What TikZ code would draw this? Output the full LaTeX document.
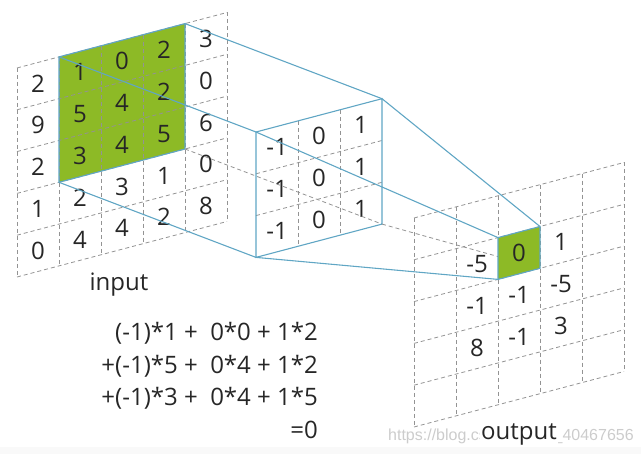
\documentclass[tikz,border=0pt]{standalone}
\usepackage{fontspec}
\setmainfont{Open Sans}
\newfontfamily\markfont{Liberation Sans}
\definecolor{patchgreen}{RGB}{141,186,38}
\definecolor{linkblue}{RGB}{96,166,196}
\tikzset{
  cellgrid/.style={gray!85,dash pattern=on 4pt off 3pt,line width=0.8pt},
  linkline/.style={linkblue,line width=1.1pt},
  val/.style={font=\fontsize{24}{28}\selectfont,text=black!85,inner sep=0pt},
  skewed/.style={x={(42pt,11.1pt)},y={(0pt,-41.8pt)}}
}
\begin{document}
\begin{tikzpicture}[x=1pt,y=-1pt]
  \useasboundingbox (0,0) rectangle (641,454);
  \fill[gray!5] (0,447) rectangle (641,454);

  % input
  \begin{scope}[shift={(17,68)},skewed]
    \fill[patchgreen] (1,0) -- (4,0) -- (4,3) -- (1,3) -- cycle;
    \foreach \i in {0,...,5} \draw[cellgrid] (\i,0) -- (\i,5);
    \foreach \j in {0,...,5} \draw[cellgrid] (0,\j) -- (5,\j);
    \draw[linkline] (1,0) -- (4,0) -- (4,3) -- (1,3) -- cycle;
    \coordinate (pTL) at (1,0);
    \coordinate (pTR) at (4,0);
    \coordinate (pBL) at (1,3);
    \coordinate (pBR) at (4,3);
    \foreach \row [count=\j from 0] in {{2,1,0,2,3},{9,5,4,2,0},{2,3,4,5,6},{1,2,3,1,0},{0,4,4,2,8}}
      \foreach \v [count=\i from 0] in \row
        \node[val] at (\i+0.5,\j+0.5) {\v};
  \end{scope}

  % kernel
  \begin{scope}[shift={(256,132)},skewed]
    \foreach \i in {1,2} \draw[cellgrid] (\i,0) -- (\i,3);
    \foreach \j in {1,2} \draw[cellgrid] (0,\j) -- (3,\j);
    \coordinate (kTL) at (0,0);
    \coordinate (kTR) at (3,0);
    \coordinate (kBL) at (0,3);
    \coordinate (kBR) at (3,3);
    \foreach \v [count=\i from 0] in {-1,0,1}
      \foreach \j in {0,1,2}
        \node[val] at (\i+0.5,\j+0.5) {\v};
  \end{scope}
  \draw[cellgrid] (pBR) -- (kBR);
  \draw[linkline] (pTL) -- (kTL);
  \draw[linkline] (pTR) -- (kTR);
  \draw[linkline] (pBL) -- (kBL);
  \draw[linkline] (kTL) -- (kTR) -- (kBR) -- (kBL) -- cycle;

  % output
  \begin{scope}[shift={(414,218)},skewed]
    \foreach \i in {0,...,5} \draw[cellgrid] (\i,0) -- (\i,5);
    \foreach \j in {0,...,5} \draw[cellgrid] (0,\j) -- (5,\j);
    \coordinate (oTL) at (2,1);
    \coordinate (oTR) at (3,1);
    \coordinate (oBL) at (2,2);
    \coordinate (oBR) at (3,2);
    \draw[cellgrid] (kBR) -- (oBR);
    \fill[patchgreen] (oTL) -- (oTR) -- (oBR) -- (oBL) -- cycle;
    \draw[linkline] (oTL) -- (oTR) -- (oBR) -- (oBL) -- cycle;
    \foreach \row [count=\j from 1] in {{-5,0,1},{-1,-1,-5},{8,-1,3}}
      \foreach \v [count=\i from 1] in \row
        \node[val] at (\i+0.5,\j+0.5) {\v};
  \end{scope}
  \draw[linkline] (kTL) -- (oTL);
  \draw[linkline] (kTR) -- (oTR);
  \draw[linkline] (kBL) -- (oBL);

  % labels
  \node[val] (inlabel) at (119,285) {input};
  \node[val,anchor=base east] (sum1) at (318,341) {(-1)*1 + \ 0*0 + 1*2};
  \node[val,anchor=base east] (sum2) at (318,374) {+(-1)*5 + \ 0*4 + 1*2};
  \node[val,anchor=base east] (sum3) at (318,406) {+(-1)*3 + \ 0*4 + 1*5};
  \node[val,anchor=base east] (sum4) at (318,439) {=0};
  \node[font=\markfont\fontsize{16}{19}\selectfont,text=gray!40,anchor=west,inner sep=0pt] (mark) at (388,436) {https://blog.csdn.net/qq\_40467656};
  \node[val,fill=white,inner sep=1pt] (outlabel) at (519,434) {output};
\end{tikzpicture}
\end{document}
